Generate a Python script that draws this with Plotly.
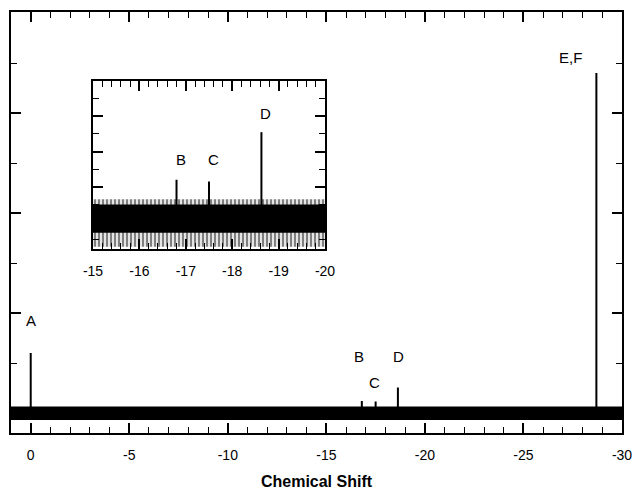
import plotly.graph_objects as go

# ---- data ----
peak_labels = ["A", "B", "C", "D", "E,F"]
peak_shifts = [0.0, -16.8, -17.5, -18.63, -28.7]
peak_heights = [1.2, 0.24, 0.23, 0.51, 6.8]

# baseline noise envelope (outer band and dense core)
noise_x = [1.0, -30.0]
noise_outer_upper = [0.13, 0.13]
noise_outer_lower = [-0.14, -0.14]
noise_core_upper = [0.10, 0.10]
noise_core_lower = [-0.06, -0.06]

main_xtick_vals = [0, -5, -10, -15, -20, -25, -30]
main_xtick_text = ["0", "-5", "-10", "-15", "-20", "-25", "-30"]
inset_xtick_vals = [-15, -16, -17, -18, -19, -20]
inset_xtick_text = ["-15", "-16", "-17", "-18", "-19", "-20"]

FONT = "Liberation Sans, Arial, Helvetica, sans-serif"


def band(upper, lower):
    return noise_x + noise_x[::-1], upper + lower[::-1]


def stems(xs, hs):
    sx, sy = [], []
    for p, h in zip(xs, hs):
        sx += [p, p, None]
        sy += [0, h, None]
    return sx, sy


fig = go.Figure()

# main panel
bx, by = band(noise_outer_upper, noise_outer_lower)
fig.add_trace(go.Scatter(x=bx, y=by, fill="toself", fillcolor="black",
                         line=dict(width=0), mode="lines",
                         hoverinfo="skip", showlegend=False, xaxis="x", yaxis="y"))
sx, sy = stems(peak_shifts, peak_heights)
fig.add_trace(go.Scatter(x=sx, y=sy, mode="lines", line=dict(color="black", width=2),
                         showlegend=False, xaxis="x", yaxis="y"))

# inset panel
fig.add_trace(go.Scatter(x=bx, y=by, fill="toself", fillcolor="white",
                         fillpattern=dict(shape="|", fgcolor="black", bgcolor="white",
                                          size=4, solidity=0.6),
                         line=dict(width=0), mode="lines", hoverinfo="skip",
                         showlegend=False, xaxis="x2", yaxis="y2"))
cx, cy = band(noise_core_upper, noise_core_lower)
fig.add_trace(go.Scatter(x=cx, y=cy, fill="toself", fillcolor="black",
                         line=dict(width=0), mode="lines", hoverinfo="skip",
                         showlegend=False, xaxis="x2", yaxis="y2"))
fig.add_trace(go.Scatter(x=sx, y=sy, mode="lines", line=dict(color="black", width=2),
                         showlegend=False, xaxis="x2", yaxis="y2"))

axis_common = dict(showline=True, linecolor="black", linewidth=2, mirror="ticks",
                   ticks="inside", tickcolor="black", tickwidth=1.5, ticklen=10,
                   showgrid=False, zeroline=False, automargin=False)

main_label_pos = {"A": (0.0, 1.86), "B": (-16.65, 1.14), "C": (-17.46, 0.62),
                  "D": (-18.68, 1.14), "E,F": (-27.4, 7.12)}
inset_label_pos = {"B": (-16.9, 0.355), "C": (-17.6, 0.355), "D": (-18.72, 0.616)}

annotations = []
for lab in peak_labels:
    if lab in main_label_pos:
        x, y = main_label_pos[lab]
        annotations.append(dict(x=x, y=y, xref="x", yref="y", text=lab, showarrow=False,
                                font=dict(family=FONT, size=15, color="black")))
    if lab in inset_label_pos:
        x, y = inset_label_pos[lab]
        annotations.append(dict(x=x, y=y, xref="x2", yref="y2", text=lab, showarrow=False,
                                font=dict(family=FONT, size=15, color="black")))

fig.update_layout(
    width=636, height=491,
    margin=dict(l=11, r=14, t=12, b=58, autoexpand=False),
    paper_bgcolor="white", plot_bgcolor="white",
    font=dict(family=FONT, size=14, color="black"),
    xaxis=dict(**axis_common, domain=[0, 1], range=[1.0, -30.0], anchor="y",
               tickmode="array", tickvals=main_xtick_vals, ticktext=main_xtick_text,
               minor=dict(dtick=1, tick0=0, ticks="inside", ticklen=6, tickcolor="black",
                          tickwidth=1.2, showgrid=False),
               tickfont=dict(family=FONT, size=14), ticklabelstandoff=8,
               title=dict(text="<b>Chemical Shift</b>", font=dict(family=FONT, size=16),
                          standoff=14)),
    yaxis=dict(**axis_common, domain=[0, 1], range=[-0.4, 8.02], anchor="x",
               tick0=0, dtick=2, showticklabels=False,
               minor=dict(dtick=1, tick0=0, ticks="inside", ticklen=6, tickcolor="black",
                          tickwidth=1.2, showgrid=False)),
    xaxis2=dict(**axis_common, domain=[0.1342, 0.5139], range=[-15, -20], anchor="y2",
                tickmode="array", tickvals=inset_xtick_vals, ticktext=inset_xtick_text,
                minor=dict(dtick=0.2, tick0=-15, ticks="inside", ticklen=6, tickcolor="black",
                           tickwidth=1.2, showgrid=False),
                tickfont=dict(family=FONT, size=14), ticklabelstandoff=8),
    yaxis2=dict(**axis_common, domain=[0.437, 0.836], range=[-0.153, 0.80], anchor="x2",
                tick0=0, dtick=0.2, showticklabels=False,
                minor=dict(dtick=0.1, tick0=0, ticks="inside", ticklen=6, tickcolor="black",
                           tickwidth=1.2, showgrid=False)),
    annotations=annotations,
)

fig.write_html("out.html",
               config={"displayModeBar": False},
               post_script="document.body.style.margin='0px';document.body.style.overflow='hidden';")
